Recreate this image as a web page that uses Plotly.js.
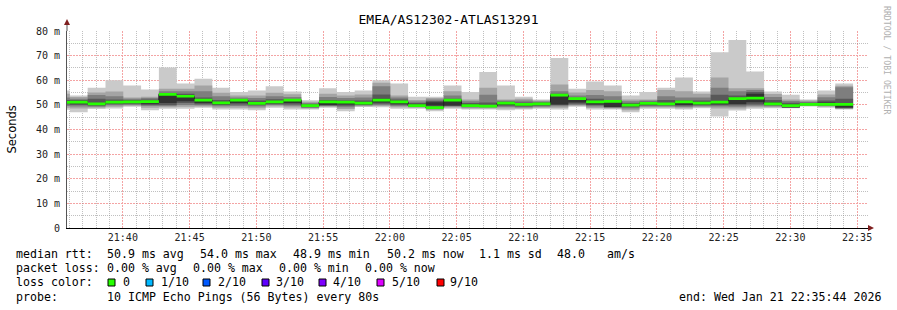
<!DOCTYPE html>
<html><head><meta charset="utf-8">
<script src="https://cdn.plot.ly/plotly-3.0.1.min.js"></script>
<style>html,body{margin:0;padding:0;background:#fff;}#chart{width:897px;height:310px;}</style>
</head><body><div id="chart"></div>
<script>
// ---- data (ms), one entry per 80 s step, first step starts 21:34:42 ----
const startClock = '21:34:42';
const stepSeconds = 80;
const lo1 = [48.0,47.0,48.3,48.5,49.2,47.8,48.4,48.4,48.8,48.1,48.1,47.8,48.8,48.1,48.1,48.8,47.4,49.1,49.0,48.4,48.4,47.4,48.4,48.1,48.1,47.8,48.1,48.4,48.1,49.2,48.1,48.1,47.0,48.4,48.4,48.1,48.6,45.3,47.7,48.4,48.6,48.6,49.3,48.8,48.1];
const lo2 = [48.8,48.5,48.8,49.2,49.6,48.8,49.0,49.2,49.3,48.8,48.8,48.6,49.4,48.9,48.5,49.2,48.3,49.4,49.5,49.0,48.8,47.9,48.9,48.5,48.5,48.5,48.5,48.8,48.8,49.6,48.7,48.5,47.8,48.9,48.9,48.6,49.0,48.5,48.5,49.0,49.0,48.7,49.5,49.2,48.3];
const lo3 = [49.5,49.3,49.2,49.8,50.0,49.5,49.5,50.0,49.8,49.4,49.5,49.3,49.9,49.6,48.8,49.5,49.0,49.7,50.0,49.5,49.1,48.3,49.3,48.9,48.9,49.1,48.9,49.2,49.4,50.0,49.3,48.8,48.5,49.3,49.3,49.1,49.4,49.3,49.2,49.6,49.4,48.8,49.7,49.5,48.5];
const lo4 = [50.2,50.0,49.6,50.3,50.4,50.0,50.0,50.8,50.3,49.9,50.2,49.8,50.3,50.2,49.0,49.7,49.6,50.0,50.5,50.0,49.3,48.7,49.5,49.2,49.2,49.6,49.3,49.6,49.9,50.5,49.8,49.0,49.0,49.7,49.7,49.6,49.8,49.8,49.8,50.2,49.8,48.9,49.9,49.8,48.7];
const lo5 = [50.6,50.6,49.9,50.7,50.8,50.5,50.8,51.5,50.8,50.3,50.8,50.2,50.7,50.8,49.2,49.9,50.2,50.3,51.0,50.5,49.5,49.7,49.7,49.5,49.4,50.1,49.7,50.0,50.2,51.0,50.2,49.1,49.5,50.1,50.1,50.0,50.2,50.3,50.4,51.1,50.1,49.0,50.0,50.0,48.9];
const hi5 = [51.4,51.6,50.8,51.5,51.6,51.6,54.0,53.3,51.8,51.2,51.8,51.0,51.5,51.6,49.7,51.1,51.0,51.0,52.5,51.5,50.2,51.1,51.6,50.2,50.0,50.8,50.4,50.6,53.5,52.2,51.0,51.1,50.2,50.9,50.8,51.0,51.0,51.4,52.0,54.5,51.0,50.3,50.5,51.0,49.8];
const hi4 = [52.0,52.0,52.5,52.2,52.0,52.2,54.8,54.5,53.0,52.0,52.4,51.8,52.3,52.3,50.3,52.0,51.8,51.8,54.2,52.2,50.8,51.6,52.5,50.8,51.0,51.3,51.0,51.0,54.5,52.8,52.5,52.0,50.8,51.3,52.0,51.8,51.8,54.1,53.8,55.2,52.0,50.9,50.9,51.8,52.5];
const hi3 = [53.0,52.5,54.0,53.5,52.5,52.8,55.5,55.5,55.5,53.5,53.0,52.8,53.5,53.2,50.8,53.2,52.8,53.0,57.6,53.0,51.4,52.2,53.8,51.5,54.1,51.8,51.8,51.4,55.5,53.8,54.0,53.5,51.5,51.8,53.5,53.0,53.0,57.0,55.5,56.0,53.2,51.6,51.3,53.1,57.2];
const hi2 = [54.5,53.2,55.0,55.4,53.0,53.3,56.5,56.5,57.9,54.9,53.8,53.8,54.9,54.3,51.3,54.5,53.8,54.2,59.0,53.8,52.0,52.8,55.5,52.2,57.0,52.2,52.5,51.8,58.3,55.0,56.0,55.5,52.2,52.2,56.0,55.5,54.5,61.1,56.8,56.8,54.4,52.2,51.8,54.2,57.8];
const hi1 = [55.8,53.8,57.0,60.0,57.9,56.2,65.2,58.7,60.6,57.0,55.2,55.8,57.6,55.4,51.9,56.8,55.2,55.8,60.0,58.7,53.3,53.3,57.9,55.2,63.3,57.9,53.3,52.2,69.0,56.5,59.5,57.9,53.8,55.2,57.0,61.1,55.4,71.4,76.3,63.6,55.4,54.1,52.2,55.8,58.7];
const median = [51.0,51.1,50.4,51.1,51.2,51.3,54.3,53.5,51.9,50.8,51.9,50.6,51.2,51.9,49.7,51.2,51.1,50.7,51.9,51.2,49.7,48.9,51.9,49.7,49.5,50.7,50.2,50.4,54.0,52.5,51.2,51.4,49.9,50.6,50.4,51.2,50.7,51.1,52.5,52.7,50.4,49.7,50.2,50.2,50.2];

const yTickVals = [0,10,20,30,40,50,60,70,80];
const yTickText = ['0','10 m','20 m','30 m','40 m','50 m','60 m','70 m','80 m'];
const yMinorVals = [5,15,25,35,45,55,65,75];

const rttLabel = 'median rtt:';
const rttStats = ['50.9 ms avg','54.0 ms max','48.9 ms min','50.2 ms now','1.1 ms sd','48.0','am/s'];
const lossLabel = 'packet loss:';
const lossStats = ['0.00 % avg','0.00 % max','0.00 % min','0.00 % now'];
const colorLabel = 'loss color:';
const lossNames = ['0','1/10','2/10','3/10','4/10','5/10','9/10'];
const lossColors = ['#26ff00','#00b8ff','#0059ff','#5e00ff','#7e00ff','#dd00ff','#ff0000'];
const probeLabel = 'probe:';
const probeText = '10 ICMP Echo Pings (56 Bytes) every 80s';
const endText = 'end: Wed Jan 21 22:35:44 2026';
const titleText = 'EMEA/AS12302-ATLAS13291';

// ---- build ----
function pad(n){return (n<10?'0':'')+n;}
function clock(sec){sec=((sec%86400)+86400)%86400;return '2026-01-21 '+pad(Math.floor(sec/3600))+':'+pad(Math.floor(sec/60)%60)+':'+pad(sec%60);}
const p = startClock.split(':').map(Number);
const base = p[0]*3600+p[1]*60+p[2];
const times = [];
for(let i=0;i<=median.length;i++) times.push(clock(base+i*stepSeconds));
function ext(a){return a.concat([a[a.length-1]]);}
const xMinorVals = [];
for(let m=36;m<=95;m++){ if(m%5!==0){ xMinorVals.push(clock(21*3600+m*60)); } }
const xRange = ['2026-01-21 21:35:49','2026-01-21 22:35:49'];

const traces = [];
traces.push({x:[xRange[0]],y:[0],xaxis:'x2',yaxis:'y2',mode:'markers',marker:{opacity:0},hoverinfo:'skip',showlegend:false});
const bands = [[lo1,hi1,'#cacaca'],[lo2,hi2,'#a4a4a4'],[lo3,hi3,'#7e7e7e'],[lo4,hi4,'#585858'],[lo5,hi5,'#323232']];
bands.forEach(b=>{
  traces.push({x:times,y:ext(b[0]),mode:'lines',line:{width:0,shape:'hv'},hoverinfo:'skip',showlegend:false});
  traces.push({x:times,y:ext(b[1]),mode:'lines',line:{width:0,shape:'hv'},fill:'tonexty',fillcolor:b[2],hoverinfo:'skip',showlegend:false});
});
traces.push({x:times,y:ext(median),mode:'lines',line:{width:1,shape:'hv',color:'#202020'},hoverinfo:'skip',showlegend:false});
const halfW = 0.55;
traces.push({x:times,y:ext(median.map(v=>v-halfW)),mode:'lines',line:{width:0,shape:'hv'},hoverinfo:'skip',showlegend:false});
traces.push({x:times,y:ext(median.map(v=>v+halfW)),mode:'lines',line:{width:0,shape:'hv'},fill:'tonexty',fillcolor:lossColors[0],hoverinfo:'skip',showlegend:false});

const L=67, R=868, T=31, B=228;
function px(x){return (x-L)/(R-L);}
function py(y){return (B-y)/(B-T);}
const mono='DejaVu Sans Mono';
const fs=11.6;
const annotations=[];
function txt(t,x,y,o){annotations.push(Object.assign({text:t,xref:'paper',yref:'paper',x:px(x),y:py(y),xanchor:'left',yanchor:'middle',showarrow:false,borderpad:0,font:{family:mono,size:fs,color:'#000'}},o||{}));}

txt(rttLabel,15,254);
[106,199,292,386,478,556,606].forEach((x,i)=>txt(rttStats[i],x,254));
txt(lossLabel,15,268);
[106,192,278,364].forEach((x,i)=>txt(lossStats[i],x,268));
txt(colorLabel,15,282);
const sqX=[108,146,203,262,319,377,437];
const lblX=[122,160,217,275,332,391,449];
const shapes=[];
lossNames.forEach((n,i)=>{
  txt(n,lblX[i],282);
  shapes.push({type:'rect',xref:'paper',yref:'paper',x0:px(sqX[i]),x1:px(sqX[i]+7),y0:py(286),y1:py(279),fillcolor:lossColors[i],line:{color:'#000',width:1}});
});
txt(probeLabel,15,297);
txt(probeText,106,297);
txt(endText,678,297);
annotations.push({text:'Seconds',xref:'paper',yref:'paper',x:px(11),y:py(129.5),xanchor:'center',yanchor:'middle',textangle:-90,showarrow:false,font:{family:'DejaVu Sans',size:11.5,color:'#000'}});
annotations.push({text:'RRDTOOL / TOBI OETIKER',xref:'paper',yref:'paper',x:px(887),y:py(60),xanchor:'center',yanchor:'middle',textangle:90,showarrow:false,font:{family:mono,size:8.2,color:'#b0b0b0'}});

shapes.push({type:'line',xref:'paper',yref:'paper',x0:0,x1:0,y0:1,y1:py(24),line:{color:'#555',width:1}});
shapes.push({type:'path',xref:'paper',yref:'paper',path:'M '+px(64)+' '+py(25)+' L '+px(70)+' '+py(25)+' L '+px(67)+' '+py(19)+' Z',fillcolor:'#7f1f1f',line:{width:0}});
shapes.push({type:'path',xref:'paper',yref:'paper',path:'M '+px(868)+' '+py(225)+' L '+px(868)+' '+py(231)+' L '+px(874)+' '+py(228)+' Z',fillcolor:'#7f1f1f',line:{width:0}});

const minorGrid='rgba(140,140,140,0.55)';
const majorGrid='#f4a4a4';
const layout={
  width:897,height:310,paper_bgcolor:'#ffffff',plot_bgcolor:'#ffffff',
  margin:{l:L,r:897-R,t:T,b:310-B},showlegend:false,
  title:{text:titleText,x:0.5,xref:'container',xanchor:'center',y:1-19/310,yref:'container',yanchor:'middle',font:{family:mono,size:13,color:'#000'}},
  xaxis:{type:'date',range:xRange,tickformat:'%H:%M',tick0:'2026-01-21 21:40:00',dtick:300000,
    showgrid:true,gridcolor:majorGrid,griddash:'2px,1px',gridwidth:1,
    showline:true,linecolor:'#000',linewidth:1,ticks:'',zeroline:false,automargin:false,fixedrange:true,
    tickfont:{family:mono,size:10,color:'#222'}},
  yaxis:{range:[0,80],tickmode:'array',tickvals:yTickVals,ticktext:yTickText,
    showgrid:true,gridcolor:majorGrid,griddash:'2px,1px',gridwidth:1,
    showline:true,linecolor:'#555',linewidth:1,ticks:'',zeroline:false,automargin:false,fixedrange:true,ticklabelstandoff:4,
    tickfont:{family:mono,size:10,color:'#222'}},
  xaxis2:{type:'date',overlaying:'x',range:xRange,tickmode:'array',tickvals:xMinorVals,showticklabels:false,ticks:'',
    showgrid:true,gridcolor:minorGrid,griddash:'1px,1px',gridwidth:1,showline:false,zeroline:false,automargin:false,fixedrange:true},
  yaxis2:{overlaying:'y',range:[0,80],tickmode:'array',tickvals:yMinorVals,showticklabels:false,ticks:'',
    showgrid:true,gridcolor:minorGrid,griddash:'1px,1px',gridwidth:1,showline:false,zeroline:false,automargin:false,fixedrange:true},
  annotations:annotations,shapes:shapes
};
Plotly.newPlot('chart',traces,layout,{staticPlot:true,displayModeBar:false});
</script></body></html>
